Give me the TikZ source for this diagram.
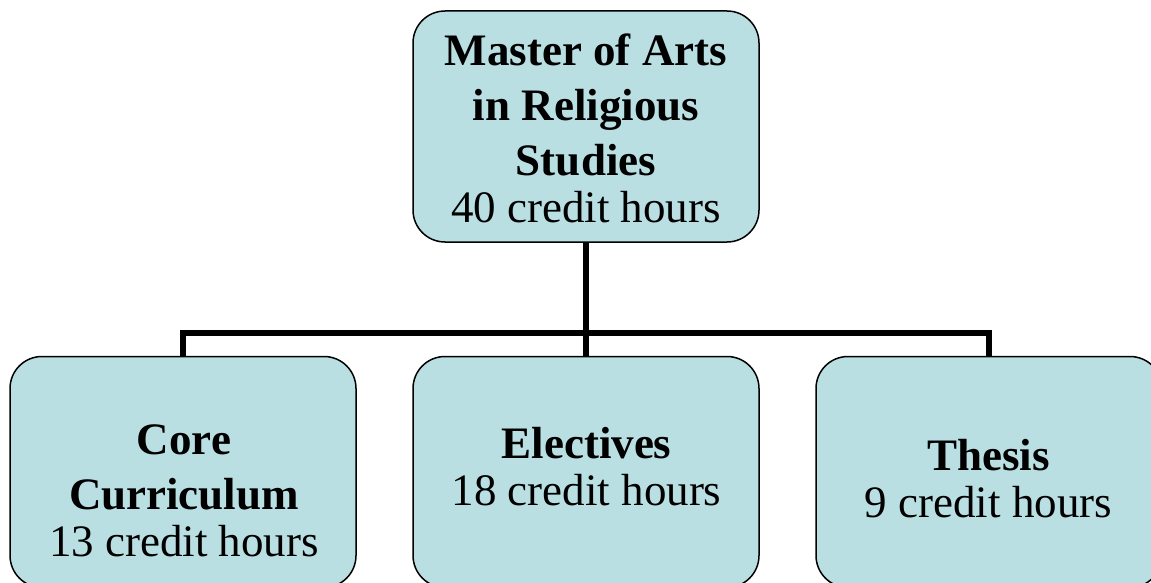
\documentclass[tikz,border=0pt]{standalone}
\usepackage{fontspec}
\setmainfont{Liberation Serif}
\usepackage{tikz}
\usetikzlibrary{shapes,positioning}
\definecolor{boxcyan}{RGB}{185,223,227}
\tikzstyle{block} = [rectangle, draw, line width=0.75pt, fill=boxcyan,
    rounded corners=16pt, minimum width=173pt, minimum height=115.5pt]
\tikzstyle{blocktext} = [align=center, inner sep=0pt,
    font=\fontsize{22.5pt}{27.5pt}\selectfont]
\tikzstyle{line} = [draw, line width=2.85pt]

\begin{document}
\begin{tikzpicture}[x=0.5pt, y=-0.5pt]
        \path[use as bounding box, clip] (0,0) rectangle (1151,583);

        \node[block] (master) at (586,126.5) {};
        \node[block] (core) at (183,472) {};
        \node[block] (elect) at (586,472) {};
        \node[block] (thesis) at (989,472) {};

        \node[blocktext] (mastertxt) at (586,128) {\textbf{Master of Arts}\\\textbf{in Religious}\\\textbf{Studies}\\[-4pt]40 credit hours};
        \node[blocktext] (coretxt) at (184,491) {\textbf{Core}\\\textbf{Curriculum}\\[-4pt]13 credit hours};
        \node[blocktext] (electtxt) at (586.5,467) {\textbf{Electives}\\[-4pt]18 credit hours};
        \node[blocktext] (thesistxt) at (988.5,479) {\textbf{Thesis}\\[-4pt]9 credit hours};

        \coordinate (fork) at (586,333);

        \path [line] (master) -- (fork);
        \path [line] (fork) -| (core);
        \path [line] (fork) -- (elect);
        \path [line] (fork) -| (thesis);
    \end{tikzpicture}
\end{document}
